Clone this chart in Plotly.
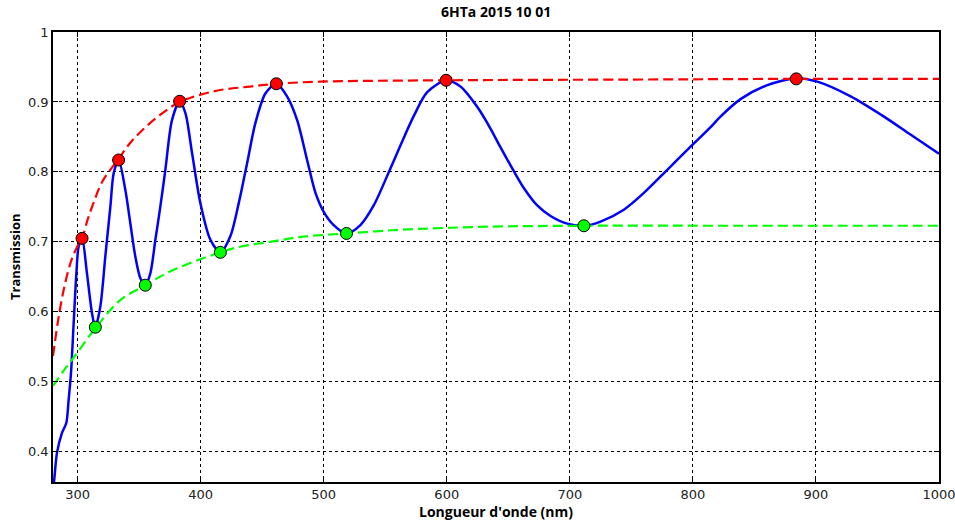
import plotly.graph_objects as go

# Measured transmission spectrum (blue)
wl = [280, 281, 283.2, 287.3, 290.8, 292.7, 294.6, 296.8, 299, 300.8, 303.6, 307.6, 311.7, 314.4,
      318.5, 322.5, 326.6, 329.3, 333.3, 338.8, 342.8, 346.9, 351, 355, 359.1, 363.2, 367.2,
      371.3, 376.7, 382.9, 387.6, 393, 399.8, 407.9, 416, 424.1, 430.9, 437.7, 444.5, 452.6,
      461.5, 470.2, 478.4, 486.5, 493.3, 500, 508.1, 518.5, 529.8, 540.6, 554.2, 562.4, 573.2,
      584.1, 599.5, 611.1, 624.7, 635.5, 643.7, 654.5, 662.6, 673.5, 684.3, 697.9, 711.4, 725,
      743.9, 760.2, 779.2, 798.1, 814.4, 822.4, 838.7, 860.5, 884, 901.1, 928.2, 955.3, 977.1, 1000]
trans = [0.345, 0.360, 0.398, 0.427, 0.441, 0.474, 0.512, 0.584, 0.655, 0.693, 0.705, 0.655, 0.598, 0.578,
         0.608, 0.679, 0.750, 0.798, 0.817, 0.774, 0.727, 0.679, 0.648, 0.638, 0.655, 0.703, 0.750,
         0.803, 0.874, 0.901, 0.884, 0.827, 0.755, 0.703, 0.685, 0.708, 0.755, 0.812, 0.870, 0.912,
         0.926, 0.908, 0.874, 0.817, 0.770, 0.743, 0.724, 0.712, 0.724, 0.752, 0.805, 0.838, 0.880,
         0.914, 0.931, 0.922, 0.893, 0.862, 0.835, 0.801, 0.777, 0.752, 0.737, 0.726, 0.723, 0.729,
         0.746, 0.770, 0.803, 0.836, 0.864, 0.879, 0.904, 0.924, 0.934, 0.929, 0.908, 0.879, 0.853, 0.826]

# Upper envelope (red dashed)
env_max_wl = [280, 285, 290, 295, 300, 303.6, 308, 313, 320, 333, 343, 354, 366, 383, 413, 440,
              462, 497, 600, 750, 884, 1000]
env_max = [0.537, 0.597, 0.642, 0.674, 0.694, 0.705, 0.731, 0.756, 0.786, 0.818, 0.842, 0.862,
           0.880, 0.900, 0.916, 0.922, 0.926, 0.929, 0.931, 0.932, 0.933, 0.933]

# Lower envelope (green dashed)
env_min_wl = [280, 290, 300, 315, 335, 355, 378, 416, 432, 460, 481, 518, 560, 600, 644, 711, 850, 1000]
env_min = [0.494, 0.519, 0.542, 0.578, 0.617, 0.638, 0.660, 0.685, 0.693, 0.701, 0.707, 0.712,
           0.717, 0.720, 0.722, 0.723, 0.723, 0.723]

# Extrema markers
max_wl = [303.6, 333.3, 382.9, 461.5, 599.5, 884]
max_t = [0.705, 0.817, 0.901, 0.926, 0.931, 0.933]
min_wl = [314.4, 355, 416, 518.5, 711.4]
min_t = [0.578, 0.638, 0.685, 0.712, 0.723]

x_ticks = [300, 400, 500, 600, 700, 800, 900, 1000]
y_ticks = [0.4, 0.5, 0.6, 0.7, 0.8, 0.9, 1]

fig = go.Figure()
fig.add_trace(go.Scatter(x=wl, y=trans, mode="lines", line=dict(color="#0000FF", width=2.5, shape="spline", smoothing=0.8)))
fig.add_trace(go.Scatter(x=env_max_wl, y=env_max, mode="lines", line=dict(color="#FF0000", width=2.2, dash="10px,5px", shape="spline")))
fig.add_trace(go.Scatter(x=env_min_wl, y=env_min, mode="lines", line=dict(color="#00FF00", width=2.2, dash="10px,5px", shape="spline")))
fig.add_trace(go.Scatter(x=max_wl, y=max_t, mode="markers",
                         marker=dict(color="#FF0000", size=12, line=dict(color="black", width=1))))
fig.add_trace(go.Scatter(x=min_wl, y=min_t, mode="markers",
                         marker=dict(color="#00FF00", size=12, line=dict(color="black", width=1))))

axis_common = dict(showgrid=True, gridcolor="black", griddash="dot", gridwidth=1,
                   showline=True, linecolor="black", linewidth=1.5, mirror="allticks",
                   ticks="inside", ticklen=5, tickcolor="black", zeroline=False,
                   automargin=False, ticklabeloverflow="allow",
                   tickfont=dict(family="DejaVu Sans", size=13, color="#222"))

fig.update_xaxes(range=[280, 1000], tickvals=x_ticks, **axis_common)
fig.update_yaxes(range=[0.3567, 1], tickvals=y_ticks, **axis_common)

W, H = 955, 526
L, R, T, B = 53, 16, 32, 44
pw, ph = W - L - R, H - T - B

fig.update_layout(
    width=W, height=H,
    margin=dict(l=L, r=R, t=T, b=B),
    paper_bgcolor="white", plot_bgcolor="white",
    showlegend=False,
    annotations=[
        dict(text="<b>6HTa 2015 10 01</b>", xref="paper", yref="paper", x=0.5, y=1 + 20 / ph,
             xanchor="center", yanchor="middle", showarrow=False,
             font=dict(family="Open Sans", size=14, color="black")),
        dict(text="<b>Longueur d'onde (nm)</b>", xref="paper", yref="paper", x=0.5, y=-29 / ph,
             xanchor="center", yanchor="middle", showarrow=False,
             font=dict(family="Open Sans", size=14, color="black")),
        dict(text="<b>Transmission</b>", xref="paper", yref="paper", x=-38 / pw, y=0.5,
             xanchor="center", yanchor="middle", showarrow=False, textangle=-90,
             font=dict(family="Open Sans", size=13, color="black")),
    ],
)

fig.write_html("out.html", config={"displayModeBar": False},
               post_script="document.body.style.margin='0px';document.body.style.overflow='hidden';")
